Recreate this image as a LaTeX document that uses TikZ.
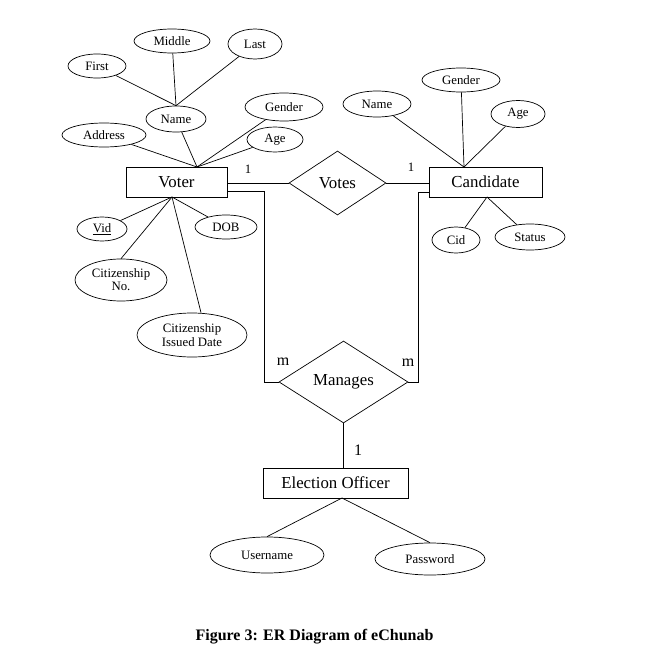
\documentclass[tikz,border=0pt]{standalone}
\usepackage{fontspec}
\setmainfont{Liberation Serif}
\usetikzlibrary{shapes.geometric,calc}
\begin{document}
\begin{tikzpicture}[x=1pt,y=-1pt,
  line width=0.7pt,
  attr/.style={draw,ellipse,inner sep=0pt,font=\fontsize{12.8}{13}\selectfont,align=center},
  entity/.style={draw,rectangle,inner sep=0pt,font=\fontsize{16.8}{18}\selectfont},
  rel/.style={draw,diamond,inner sep=0pt,font=\fontsize{16.8}{18}\selectfont},
  card/.style={inner sep=0pt,font=\fontsize{12.8}{13}\selectfont},
  cardbig/.style={inner sep=0pt,font=\fontsize{16}{17}\selectfont}]
\useasboundingbox (0,0) rectangle (654,666);
% entities
\node[entity,minimum width=101pt,minimum height=30pt] (voter) at (176.5,182) {Voter};
\node[entity,minimum width=113pt,minimum height=30pt] (candidate) at (485.5,182) {Candidate};
\node[entity,minimum width=145pt,minimum height=30pt] (officer) at (335.5,483) {Election Officer};
% relationships
\node[rel,minimum width=97pt,minimum height=64pt] (votes) at (337.5,183) {Votes};
\node[rel,minimum width=129pt,minimum height=82pt] (manages) at (343.5,382) {Manages};
% voter attributes
\node[attr,minimum width=58pt,minimum height=24pt] (first) at (97,66) {First};
\node[attr,minimum width=76pt,minimum height=24pt] (middle) at (172,41) {Middle};
\node[attr,minimum width=54pt,minimum height=30pt] (last) at (255,44) {Last};
\node[attr,minimum width=60pt,minimum height=26pt] (vname) at (176,119) {Name};
\node[attr,minimum width=84pt,minimum height=24pt] (address) at (104,135) {Address};
\node[attr,minimum width=78pt,minimum height=28pt] (vgender) at (284,107) {Gender};
\node[attr,minimum width=56pt,minimum height=25pt] (vage) at (275,139.5) {Age};
\node[attr,minimum width=50pt,minimum height=24pt] (vid) at (102,229) {\underline{Vid}};
\node[attr,minimum width=62pt,minimum height=24pt] (dob) at (226,227) {DOB};
\node[attr,minimum width=92pt,minimum height=42pt] (citno) at (121,280) {Citizenship\\No.};
\node[attr,minimum width=110pt,minimum height=44pt,font=\fontsize{12.8}{13.5}\selectfont] (citdate) at (192,335) {Citizenship\\Issued Date};
% candidate attributes
\node[attr,minimum width=68pt,minimum height=26pt] (cname) at (377,104) {Name};
\node[attr,minimum width=78pt,minimum height=24pt] (cgender) at (461,80) {Gender};
\node[attr,minimum width=54pt,minimum height=27pt] (cage) at (518,114) {Age};
\node[attr,minimum width=48pt,minimum height=26pt] (cid) at (456,240) {Cid};
\node[attr,minimum width=70pt,minimum height=26pt] (status) at (530,237) {Status};
% officer attributes
\node[attr,minimum width=114pt,minimum height=36pt] (username) at (267,555) {Username};
\node[attr,minimum width=110pt,minimum height=32pt] (password) at (430,559) {Password};
% convergence points
\coordinate (vtop) at (197,167);
\coordinate (vbot) at (172,197);
\coordinate (ctop) at (464,167);
\coordinate (cbot) at (487,197);
\coordinate (obot) at (342,498);
\coordinate (vm) at (264,382);
\coordinate (cm) at (418,382);
% attribute connectors
\draw (first) -- (vname.north);
\draw (middle) -- (vname.north);
\draw (last) -- (vname.north);
\draw (address) -- (vtop);
\draw (vname) -- (vtop);
\draw (vgender) -- (vtop);
\draw (vage) -- (vtop);
\draw (vid) -- (vbot);
\draw (dob) -- (vbot);
\draw (citno.north) -- (vbot);
\draw ($(citdate.north)+(9,0)$) -- (vbot);
\draw (cname) -- (ctop);
\draw (cgender) -- (ctop);
\draw (cage) -- (ctop);
\draw (cid) -- (cbot);
\draw (status) -- (cbot);
\draw (username.north) -- (obot);
\draw (password.north) -- (obot);
% relationship connectors
\draw (voter.east |- votes.west) -- (votes.west);
\draw (votes.east) -- (votes.east -| candidate.west);
\draw ($(voter.south east)+(0,-6)$) -| (vm) -- (manages.west);
\draw ($(candidate.south west)+(0,-5)$) -| (cm) -- (manages.east);
\draw (manages.south) -- (manages.south |- officer.north);
% cardinalities
\node[card] (c1) at (248,169) {1};
\node[card] (c2) at (411,167) {1};
\node[cardbig] (c3) at (283,362) {m};
\node[cardbig] (c4) at (408,363) {m};
\node[cardbig] (c5) at (358,450) {1};
% caption
\node[inner sep=0pt,font=\fontsize{16}{17}\selectfont\bfseries] (caption) at (314.5,637) {Figure 3: ER Diagram of eChunab};
\end{tikzpicture}
\end{document}
